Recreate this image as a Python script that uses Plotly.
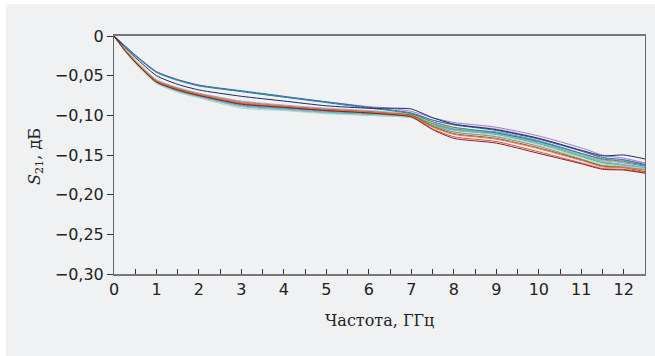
import plotly.graph_objects as go

freq = [0, 0.25, 0.5, 1, 1.5, 2, 3, 4, 5, 6, 6.5, 7, 7.5, 8, 9, 10, 11, 11.5, 12, 12.5]

s01 = [0, -0.012, -0.024, -0.045, -0.055, -0.062, -0.069, -0.076, -0.083, -0.090, -0.093, -0.097, -0.106, -0.112, -0.119, -0.130, -0.145, -0.153, -0.156, -0.162]
s02 = [0, -0.013, -0.025, -0.046, -0.056, -0.063, -0.070, -0.077, -0.084, -0.091, -0.094, -0.098, -0.108, -0.115, -0.122, -0.133, -0.148, -0.155, -0.158, -0.163]
s03 = [0, -0.012, -0.024, -0.045, -0.055, -0.062, -0.070, -0.077, -0.083, -0.089, -0.091, -0.095, -0.103, -0.109, -0.115, -0.126, -0.141, -0.150, -0.154, -0.160]
s04 = [0, -0.014, -0.027, -0.050, -0.061, -0.068, -0.076, -0.082, -0.088, -0.091, -0.091, -0.092, -0.103, -0.111, -0.118, -0.129, -0.144, -0.151, -0.150, -0.155]
s05 = [0, -0.017, -0.032, -0.057, -0.067, -0.074, -0.084, -0.089, -0.093, -0.096, -0.098, -0.101, -0.115, -0.124, -0.130, -0.142, -0.157, -0.165, -0.166, -0.168]
s06 = [0, -0.018, -0.033, -0.058, -0.068, -0.075, -0.086, -0.090, -0.094, -0.097, -0.099, -0.102, -0.118, -0.129, -0.135, -0.148, -0.161, -0.168, -0.169, -0.173]
s07 = [0, -0.019, -0.035, -0.060, -0.071, -0.078, -0.091, -0.094, -0.098, -0.100, -0.101, -0.103, -0.114, -0.121, -0.126, -0.137, -0.153, -0.161, -0.164, -0.167]
s08 = [0, -0.018, -0.034, -0.059, -0.070, -0.077, -0.089, -0.093, -0.097, -0.100, -0.101, -0.103, -0.113, -0.119, -0.124, -0.135, -0.150, -0.158, -0.162, -0.165]
s09 = [0, -0.017, -0.032, -0.056, -0.066, -0.073, -0.083, -0.088, -0.092, -0.095, -0.097, -0.100, -0.113, -0.121, -0.127, -0.139, -0.155, -0.163, -0.165, -0.169]
s10 = [0, -0.017, -0.031, -0.056, -0.066, -0.073, -0.084, -0.089, -0.093, -0.095, -0.097, -0.099, -0.109, -0.116, -0.122, -0.133, -0.149, -0.157, -0.159, -0.162]
s11 = [0, -0.018, -0.033, -0.058, -0.068, -0.075, -0.085, -0.090, -0.094, -0.096, -0.098, -0.101, -0.117, -0.127, -0.133, -0.146, -0.160, -0.167, -0.168, -0.172]
s12 = [0, -0.017, -0.032, -0.057, -0.067, -0.074, -0.085, -0.090, -0.094, -0.097, -0.099, -0.100, -0.111, -0.118, -0.124, -0.136, -0.152, -0.160, -0.163, -0.166]
s13 = [0, -0.016, -0.030, -0.055, -0.065, -0.072, -0.082, -0.087, -0.091, -0.094, -0.096, -0.098, -0.106, -0.112, -0.117, -0.129, -0.145, -0.154, -0.157, -0.160]
s14 = [0, -0.018, -0.034, -0.059, -0.069, -0.076, -0.088, -0.092, -0.096, -0.099, -0.100, -0.102, -0.112, -0.118, -0.123, -0.134, -0.151, -0.159, -0.163, -0.166]
s15 = [0, -0.017, -0.032, -0.057, -0.067, -0.074, -0.085, -0.089, -0.093, -0.096, -0.098, -0.100, -0.114, -0.123, -0.129, -0.141, -0.156, -0.164, -0.166, -0.171]
s16 = [0, -0.018, -0.033, -0.058, -0.069, -0.076, -0.087, -0.091, -0.095, -0.098, -0.099, -0.101, -0.110, -0.117, -0.121, -0.132, -0.148, -0.156, -0.160, -0.164]

series = [s16, s13, s10, s12, s14, s08, s07, s09, s15, s11, s05, s06, s03, s01, s02, s04]
colors = ["#5b87c5", "#b9a6d8", "#e2b43a", "#5aa469", "#3bbbc4", "#7fb0de",
          "#a8dcb8", "#8c8c8c", "#8a5a2b", "#e0505a", "#e8782e", "#8b1e1e",
          "#a07cc8", "#3a62b0", "#1f8a8f", "#1e2a5a"]

y_tickvals = [0, -0.05, -0.10, -0.15, -0.20, -0.25, -0.30]
y_ticktext = ["0", "\u22120,05", "\u22120,10", "\u22120,15", "\u22120,20", "\u22120,25", "\u22120,30"]

bg = "#f0f1f3"
fig = go.Figure()
for s, c in zip(series, colors):
    fig.add_trace(go.Scatter(x=freq, y=s, mode="lines",
                             line=dict(color=c, width=1, shape="spline", smoothing=0.6),
                             showlegend=False, hoverinfo="skip"))

fig.add_shape(type="rect", xref="paper", yref="paper",
              x0=(6 - 114) / 531, x1=(655 - 114) / 531 + 0.01,
              y0=(274 - 356) / 238 - 0.01, y1=(274 - 4) / 238,
              fillcolor=bg, line=dict(width=0), layer="below")

fig.update_layout(
    width=655, height=356,
    margin=dict(l=114, r=10, t=36, b=82, autoexpand=False),
    paper_bgcolor="white", plot_bgcolor=bg,
    font=dict(family="DejaVu Sans", size=16, color="#222222"),
    xaxis=dict(range=[0, 12.5], tick0=0, dtick=1,
               ticks="inside", ticklen=5, tickcolor="#333333", tickwidth=1,
               minor=dict(ticks="inside", dtick=0.5, tick0=0, ticklen=5,
                          tickcolor="#333333", tickwidth=1, showgrid=False),
               showline=True, linecolor="#777777", linewidth=1.5, mirror=True,
               showgrid=False, zeroline=False,
               tickfont=dict(family="DejaVu Sans", size=16, color="#222222")),
    yaxis=dict(range=[-0.30, 0], tickvals=y_tickvals, ticktext=y_ticktext,
               ticks="outside", ticklen=6, tickcolor="#333333", tickwidth=1,
               showline=True, linecolor="#666666", linewidth=1, mirror=True,
               showgrid=False, zeroline=False,
               tickfont=dict(family="DejaVu Sans", size=16, color="#222222")),
    annotations=[
        dict(text="Частота, ГГц", xref="paper", yref="paper",
             x=(379 - 114) / 531, y=(274 - 320) / 238, showarrow=False,
             xanchor="center", yanchor="middle",
             font=dict(family="DejaVu Serif", size=16, color="#222222")),
        dict(text="<i>S</i><sub>21</sub>, дБ", xref="paper", yref="paper",
             x=(35 - 114) / 531, y=(274 - 157) / 238, showarrow=False,
             textangle=-90, xanchor="center", yanchor="middle",
             font=dict(family="DejaVu Serif", size=16, color="#222222")),
    ],
)

fig.write_html("out.html", config={"displayModeBar": False},
               post_script="document.body.style.margin='0';")
